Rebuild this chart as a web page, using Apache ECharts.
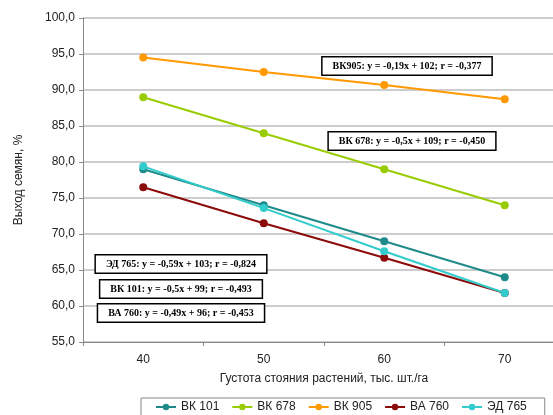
<!DOCTYPE html>
<html><head><meta charset="utf-8">
<script src="https://cdn.jsdelivr.net/npm/echarts@6/dist/echarts.min.js"></script>
<style>html,body{margin:0;padding:0;background:#fff}#c{width:553px;height:415px}</style>
</head><body><div id="c"></div>
<script>
const categories = ['40', '50', '60', '70'];
const seriesNames = ['ВК 101', 'ВК 678', 'ВК 905', 'ВА 760', 'ЭД 765'];
const vk101 = [79.0, 74.0, 69.0, 64.0];
const vk678 = [89.0, 84.0, 79.0, 74.0];
const vk905 = [94.5, 92.5, 90.7, 88.7];
const va760 = [76.5, 71.5, 66.7, 61.8];
const ed765 = [79.4, 73.6, 67.6, 61.8];
const colors = ['#1f8a8a', '#99cc00', '#ff9900', '#8b0a0a', '#33cccc'];
const annotations = [
  'ВК905: y = -0,19x + 102; r = -0,377',
  'ВК 678: y = -0,5x + 109; r = -0,450',
  'ЭД 765: y = -0,59x + 103; r = -0,824',
  'ВК 101: y = -0,5x + 99; r = -0,493',
  'ВА 760: y = -0,49x + 96; r = -0,453'
];
const yTitle = 'Выход семян, %';
const xTitle = 'Густота стояния растений, тыс. шт./га';

const allData = [vk101, vk678, vk905, va760, ed765];
const boxPos = [[407, 66], [412, 141], [181, 264], [181, 289], [181, 313]];

const chart = echarts.init(document.getElementById('c'), null, {renderer: 'canvas'});
chart.setOption({
  animation: false,
  color: colors,
  grid: {left: 83, width: 482, top: 18, height: 324, containLabel: false, outerBoundsMode: 'none'},
  xAxis: {
    type: 'category', data: categories, boundaryGap: true,
    name: xTitle, nameLocation: 'middle', nameGap: 31,
    nameTextStyle: {fontFamily: 'Liberation Sans', fontSize: 12, color: '#222'},
    axisLine: {lineStyle: {color: '#888', width: 1}},
    axisTick: {show: true, alignWithLabel: false, length: 4, lineStyle: {color: '#888'}},
    axisLabel: {fontFamily: 'Liberation Sans', fontSize: 12, color: '#222', margin: 12}
  },
  yAxis: {
    type: 'value', min: 55, max: 100, interval: 5,
    name: yTitle, nameLocation: 'middle', nameGap: 58, nameRotate: 90,
    nameTextStyle: {fontFamily: 'Liberation Sans', fontSize: 12, color: '#222'},
    axisLine: {show: true, lineStyle: {color: '#888', width: 1}},
    axisTick: {show: true, length: 4, lineStyle: {color: '#888'}},
    axisLabel: {fontFamily: 'Liberation Sans', fontSize: 12, color: '#222', margin: 8,
      formatter: v => v.toFixed(1).replace('.', ',')},
    splitLine: {lineStyle: {color: '#bdbdbd', width: 1.5}}
  },
  legend: {
    data: seriesNames, left: 141, top: 398, width: 420, itemGap: 12, itemWidth: 20, itemHeight: 8,
    padding: [3, 18, 6, 14],
    borderColor: '#888', borderWidth: 1,
    textStyle: {fontFamily: 'Liberation Sans', fontSize: 12, color: '#222'}
  },
  series: seriesNames.map((n, i) => ({
    name: n, type: 'line', data: allData[i],
    symbol: 'circle', symbolSize: 8,
    lineStyle: {width: 2, color: colors[i]},
    itemStyle: {color: colors[i]}
  })),
  graphic: annotations.map((t, i) => ({
    type: 'text', z: 100,
    x: boxPos[i][0], y: boxPos[i][1],
    style: {
      text: t, font: 'bold 10px "Liberation Serif"', fill: '#000',
      align: 'center', verticalAlign: 'middle',
      backgroundColor: '#fff', borderColor: '#000', borderWidth: 1.5,
      padding: [4, 10, 3, 10]
    }
  }))
});
</script></body></html>
